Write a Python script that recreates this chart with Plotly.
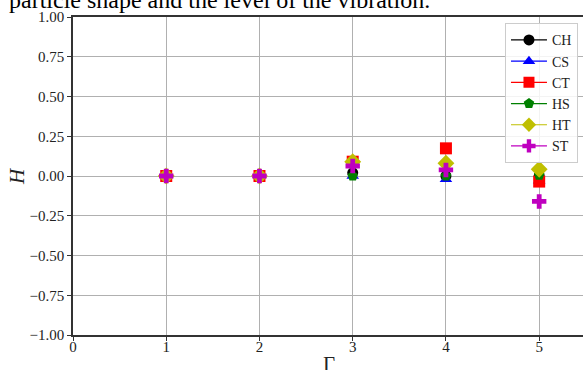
import plotly.graph_objects as go

gamma = [1, 2, 3, 4, 5]
series_names = ["CH", "CS", "CT", "HS", "HT", "ST"]
CH = [0.0, 0.0, 0.02, 0.0, 0.0]
CS = [0.0, 0.0, 0.0, -0.02, -0.03]
CT = [0.0, 0.0, 0.09, 0.174, -0.035]
HS = [0.0, 0.0, 0.0, 0.0, 0.005]
HT = [0.0, 0.0, 0.09, 0.08, 0.042]
ST = [0.0, 0.0, 0.063, 0.038, -0.16]
yticks = [-1.0, -0.75, -0.5, -0.25, 0.0, 0.25, 0.5, 0.75, 1.0]
ytick_text = ["−1.00", "−0.75", "−0.50", "−0.25", "0.00", "0.25", "0.50", "0.75", "1.00"]
xticks = [0, 1, 2, 3, 4, 5]

values = [CH, CS, CT, HS, HT, ST]
colors = ["#000000", "#0000ff", "#ff0000", "#008000", "#bfbf00", "#bf00bf"]
symbols = ["circle", "triangle-up", "square", "pentagon", "diamond", "cross"]
sizes = [11, 11, 12, 11, 13, 12]

FONT = "Liberation Serif, Times New Roman, serif"
fig = go.Figure()
for name, vals, c, s, sz in zip(series_names, values, colors, symbols, sizes):
    fig.add_trace(go.Scatter(
        x=gamma, y=vals, name=name, mode="markers",
        marker=dict(color=c, symbol=s, size=sz, line=dict(width=0)),
        showlegend=False,
    ))
for name, c, s in zip(series_names, colors, symbols):
    fig.add_trace(go.Scatter(
        x=[None], y=[None], name=name, mode="lines+markers",
        line=dict(color=c, width=1.2), marker=dict(color=c, symbol=s, size=11),
    ))

fig.update_layout(
    width=583, height=370,
    margin=dict(l=73, r=0, t=17, b=35, autoexpand=False),
    paper_bgcolor="white", plot_bgcolor="white",
    font=dict(family=FONT, size=15, color="#222"),
    showlegend=True,
    legend=dict(x=0.847, y=0.98, xanchor="left", yanchor="top",
                bgcolor="rgba(255,255,255,0.85)", bordercolor="#cccccc", borderwidth=1,
                font=dict(family=FONT, size=14, color="#222"), tracegroupgap=0,
                itemwidth=36),
    xaxis=dict(range=[0, 5.47], tickvals=xticks, showgrid=True, gridcolor="#b0b0b0", gridwidth=1,
               showline=True, linecolor="#333", linewidth=1.5, mirror=True, automargin=False,
               ticks="outside", ticklen=4, tickcolor="#333", zeroline=False,
               ticklabelstandoff=-7,
               tickfont=dict(family=FONT, size=15)),
    yaxis=dict(range=[-1, 1], tickvals=yticks, ticktext=ytick_text, showgrid=True,
               gridcolor="#b0b0b0", gridwidth=1, automargin=False,
               showline=True, linecolor="#333", linewidth=1.5,
               ticks="outside", ticklen=4, tickcolor="#333", zeroline=False,
               tickfont=dict(family=FONT, size=15)),
)
fig.add_annotation(text="particle shape and the level of the vibration.", xref="paper", yref="paper",
                   x=-66/510, y=1, xanchor="left", yanchor="bottom", yshift=2,
                   showarrow=False, font=dict(family=FONT, size=24, color="#000"))
fig.add_annotation(text="Γ", xref="paper", yref="paper", x=256/510, y=0,
                   xanchor="center", yanchor="top", yshift=-15,
                   showarrow=False, font=dict(family=FONT, size=21, color="#222"))
fig.add_annotation(text="<i>H</i>", xref="paper", yref="paper", x=-56/510, y=0.5,
                   xanchor="center", yanchor="middle", textangle=-90,
                   showarrow=False, font=dict(family=FONT, size=21, color="#222"))
fig.write_html("out.html", config={"displayModeBar": False},
               post_script="document.body.style.margin='0';")
